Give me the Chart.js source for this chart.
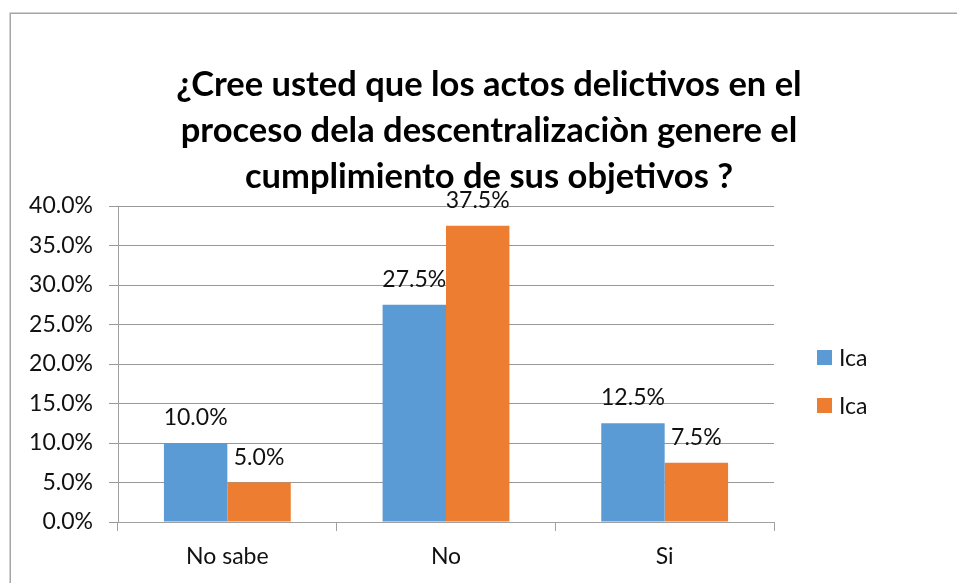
<!DOCTYPE html>
<html>
<head>
<meta charset="utf-8">
<script src="https://cdn.jsdelivr.net/npm/chart.js@4/dist/chart.umd.min.js"></script>
<style>
  html, body { margin: 0; padding: 0; background: #ffffff; }
  #wrap { width: 957px; height: 583px; position: relative; }
</style>
</head>
<body>
<div id="wrap"><canvas id="c" width="957" height="583"></canvas></div>
<script>
const titleLines = [
  "¿Cree usted que los actos delictivos en el",
  "proceso dela descentralizaciòn genere el",
  "cumplimiento de sus objetivos ?"
];
const categories = ["No sabe", "No", "Si"];
const seriesNames = ["Ica", "Ica"];
const seriesA = [10.0, 27.5, 12.5];
const seriesB = [5.0, 37.5, 7.5];
const seriesColors = ["#5B9BD5", "#ED7D31"];
const yMin = 0, yMax = 40, yStep = 5;

const FONT = "Lato, 'Open Sans', 'Liberation Sans', sans-serif";

const framePlugin = {
  id: 'frame',
  beforeDraw(chart) {
    const ctx = chart.ctx;
    ctx.save();
    ctx.fillStyle = '#ffffff';
    ctx.fillRect(0, 0, chart.width, chart.height);
    ctx.strokeStyle = '#a6a6a6';
    ctx.lineWidth = 1.5;
    ctx.strokeRect(10.25, 13.25, 2000, 2000);
    ctx.restore();
  }
};

const titlePlugin = {
  id: 'customTitle',
  afterDraw(chart) {
    const ctx = chart.ctx;
    ctx.save();
    ctx.font = "bold 34.5px " + FONT;
    ctx.fillStyle = '#000000';
    ctx.textAlign = 'center';
    ctx.textBaseline = 'alphabetic';
    const cx = 489;
    const baselines = [96, 142, 188];
    titleLines.forEach((t, i) => ctx.fillText(t, cx, baselines[i]));
    ctx.restore();
  }
};

const valueLabelPlugin = {
  id: 'valueLabels',
  afterDatasetsDraw(chart) {
    const ctx = chart.ctx;
    ctx.save();
    ctx.font = "23px " + FONT;
    ctx.fillStyle = '#111111';
    ctx.textAlign = 'center';
    ctx.textBaseline = 'alphabetic';
    chart.data.datasets.forEach((ds, di) => {
      const meta = chart.getDatasetMeta(di);
      meta.data.forEach((bar, i) => {
        ctx.fillText(ds.data[i].toFixed(1) + '%', bar.x, bar.y - 18);
      });
    });
    ctx.restore();
  }
};

const legendPlugin = {
  id: 'customLegend',
  afterDraw(chart) {
    const ctx = chart.ctx;
    ctx.save();
    ctx.font = "23px " + FONT;
    ctx.textAlign = 'left';
    ctx.textBaseline = 'middle';
    const x = 817, y0 = 350, gap = 48;
    chart.data.datasets.forEach((ds, i) => {
      const y = y0 + i * gap;
      ctx.fillStyle = ds.backgroundColor;
      ctx.fillRect(x, y, 15, 15);
      ctx.fillStyle = '#111111';
      ctx.fillText(ds.label, x + 22, y + 9);
    });
    ctx.restore();
  }
};

new Chart(document.getElementById('c'), {
  type: 'bar',
  data: {
    labels: categories,
    datasets: [
      { label: seriesNames[0], data: seriesA, backgroundColor: seriesColors[0],
        categoryPercentage: 0.58, barPercentage: 1.0 },
      { label: seriesNames[1], data: seriesB, backgroundColor: seriesColors[1],
        categoryPercentage: 0.58, barPercentage: 1.0 }
    ]
  },
  options: {
    responsive: false,
    animation: false,
    devicePixelRatio: 1,
    layout: { padding: { top: 206, right: 183, left: 0, bottom: 0 } },
    plugins: {
      legend: { display: false },
      title: { display: false },
      tooltip: { enabled: false }
    },
    scales: {
      x: {
        afterFit(scale) { scale.height = 61; },
        grid: { display: true, drawOnChartArea: false, drawTicks: true, offset: true,
                tickLength: 9, color: '#a0a0a0', lineWidth: 1 },
        border: { display: true, color: '#a0a0a0', width: 1 },
        ticks: { color: '#111111', font: { family: FONT, size: 23 }, padding: 12 }
      },
      y: {
        min: yMin, max: yMax,
        afterFit(scale) { scale.width = 118; },
        grid: { color: '#989898', lineWidth: 1, tickLength: 9, drawTicks: true },
        border: { display: true, color: '#a0a0a0', width: 1 },
        ticks: {
          stepSize: yStep, color: '#111111', padding: 16,
          font: { family: FONT, size: 23 },
          callback: v => v.toFixed(1) + '%'
        }
      }
    }
  },
  plugins: [framePlugin, valueLabelPlugin, titlePlugin, legendPlugin]
});
</script>
</body>
</html>
